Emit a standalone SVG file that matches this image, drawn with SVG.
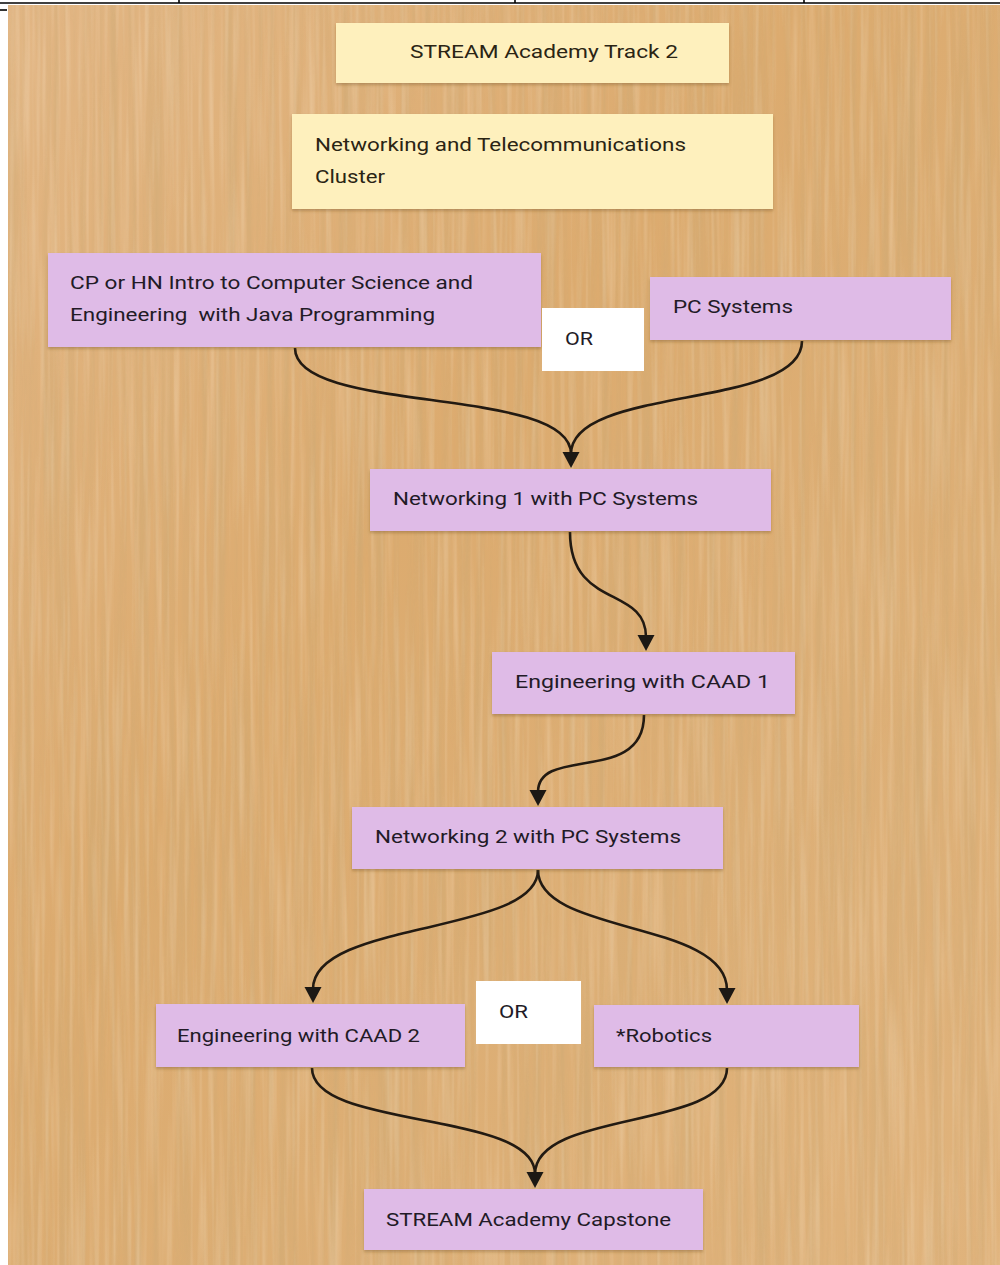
<svg xmlns="http://www.w3.org/2000/svg" width="1000" height="1265" viewBox="0 0 1000 1265">
  <defs>
    <filter id="grain" x="0" y="0" width="100%" height="100%">
      <feTurbulence type="fractalNoise" baseFrequency="0.12 0.003" numOctaves="3" seed="7" result="n"/>
      <feColorMatrix in="n" type="matrix" values="0 0 0 0 0.60  0 0 0 0 0.40  0 0 0 0 0.18  0 0 0 1.6 -0.62"/>
    </filter>
    <filter id="grainLight" x="0" y="0" width="100%" height="100%">
      <feTurbulence type="fractalNoise" baseFrequency="0.2 0.006" numOctaves="2" seed="21" result="n"/>
      <feColorMatrix in="n" type="matrix" values="0 0 0 0 1  0 0 0 0 0.9  0 0 0 0 0.75  0 0 0 1.4 -0.6"/>
    </filter>
    <filter id="shadow" x="-5%" y="-10%" width="110%" height="130%">
      <feDropShadow dx="0" dy="2" stdDeviation="1.5" flood-color="#6b4a22" flood-opacity="0.35"/>
    </filter>
    <linearGradient id="woodTone" x1="0" y1="0" x2="1" y2="1">
      <stop offset="0" stop-color="#e2b684"/>
      <stop offset="0.4" stop-color="#dcab6f"/>
      <stop offset="0.7" stop-color="#ddaf76"/>
      <stop offset="1" stop-color="#e0b37c"/>
    </linearGradient>
    <path id="ah" d="M-8.5,-16 L8.5,-16 L0,0 Z" fill="#1c1814"/>
  </defs>
  <style>
    .bg { fill: url(#woodTone); }
    .yellow { fill: #fef0bd; filter: url(#shadow); }
    .purple { fill: #dfbbe7; filter: url(#shadow); }
    .orbox { fill: #ffffff; }
    .t { font-family: Roboto, "Liberation Sans", sans-serif; font-size: 18.5px; fill: #221a26; white-space: pre; }
    .ty { fill: #2a2414; }
    .edge { fill: none; stroke: #221a12; stroke-width: 2.6; }
    .rule { stroke: #000; stroke-width: 1.6; }
  </style>

  <rect width="1000" height="1265" fill="#ffffff"/>
  <g id="table-rule">
    <line class="rule" x1="0" y1="3" x2="1000" y2="3"/>
    <line class="rule" x1="179" y1="0" x2="179" y2="3"/>
    <line class="rule" x1="515" y1="0" x2="515" y2="3"/>
    <line class="rule" x1="804" y1="0" x2="804" y2="3"/>
    <line class="rule" x1="0" y1="10" x2="7" y2="10"/>
  </g>
  <g id="background">
    <rect class="bg" x="8" y="5" width="992" height="1260"/>
    <rect x="8" y="5" width="992" height="1260" filter="url(#grain)" opacity="0.6"/>
    <rect x="8" y="5" width="992" height="1260" filter="url(#grainLight)" opacity="0.35"/>
  </g>

  <g id="connectors">
    <path class="edge" d="M295,348 C295,415 571,385 571,454"/>
    <path class="edge" d="M802,341 C802,410 571,385 571,454"/>
    <path class="edge" d="M570,532 C570,610 646,585 646,637"/>
    <path class="edge" d="M644,715 C644,785 538,745 538,792"/>
    <path class="edge" d="M538,870 C538,935 313,920 313,989"/>
    <path class="edge" d="M538,870 C538,935 727,920 727,990"/>
    <path class="edge" d="M312,1068 C312,1130 535,1110 535,1174"/>
    <path class="edge" d="M727,1068 C727,1130 535,1110 535,1174"/>
    <use href="#ah" x="571" y="468"/>
    <use href="#ah" x="646" y="651"/>
    <use href="#ah" x="538" y="806"/>
    <use href="#ah" x="313" y="1003"/>
    <use href="#ah" x="727" y="1004"/>
    <use href="#ah" x="535" y="1188"/>
  </g>

  <g id="node-title">
    <rect class="yellow" x="336" y="23" width="393" height="60"/>
    <text class="t ty" x="410" y="58" textLength="268" lengthAdjust="spacingAndGlyphs">STREAM Academy Track 2</text>
  </g>
  <g id="node-cluster">
    <rect class="yellow" x="292" y="114" width="481" height="95"/>
    <text class="t ty" x="315" y="151" textLength="371" lengthAdjust="spacingAndGlyphs">Networking and Telecommunications</text>
    <text class="t ty" x="315" y="183" textLength="70" lengthAdjust="spacingAndGlyphs">Cluster</text>
  </g>
  <g id="node-intro-cs">
    <rect class="purple" x="48" y="253" width="493" height="94"/>
    <text class="t" x="70" y="289" textLength="403" lengthAdjust="spacingAndGlyphs">CP or HN Intro to Computer Science and</text>
    <text class="t" x="70" y="321" textLength="365" lengthAdjust="spacingAndGlyphs">Engineering  with Java Programming</text>
  </g>
  <g id="node-or-1">
    <rect class="orbox" x="542" y="308" width="102" height="63"/>
    <text class="t" x="565" y="345" textLength="28" lengthAdjust="spacingAndGlyphs">OR</text>
  </g>
  <g id="node-pc-systems">
    <rect class="purple" x="650" y="277" width="301" height="63"/>
    <text class="t" x="673" y="313" textLength="120" lengthAdjust="spacingAndGlyphs">PC Systems</text>
  </g>
  <g id="node-networking-1">
    <rect class="purple" x="370" y="469" width="401" height="62"/>
    <text class="t" x="393" y="505" textLength="305" lengthAdjust="spacingAndGlyphs">Networking 1 with PC Systems</text>
  </g>
  <g id="node-caad-1">
    <rect class="purple" x="492" y="652" width="303" height="62"/>
    <text class="t" x="515" y="688" textLength="255" lengthAdjust="spacingAndGlyphs">Engineering with CAAD 1</text>
  </g>
  <g id="node-networking-2">
    <rect class="purple" x="352" y="807" width="371" height="62"/>
    <text class="t" x="375" y="843" textLength="306" lengthAdjust="spacingAndGlyphs">Networking 2 with PC Systems</text>
  </g>
  <g id="node-caad-2">
    <rect class="purple" x="156" y="1004" width="309" height="63"/>
    <text class="t" x="177" y="1042" textLength="243" lengthAdjust="spacingAndGlyphs">Engineering with CAAD 2</text>
  </g>
  <g id="node-or-2">
    <rect class="orbox" x="476" y="981" width="105" height="63"/>
    <text class="t" x="499" y="1018" textLength="29" lengthAdjust="spacingAndGlyphs">OR</text>
  </g>
  <g id="node-robotics">
    <rect class="purple" x="594" y="1005" width="265" height="62"/>
    <text class="t" x="616" y="1042" textLength="96" lengthAdjust="spacingAndGlyphs">*Robotics</text>
  </g>
  <g id="node-capstone">
    <rect class="purple" x="364" y="1189" width="339" height="61"/>
    <text class="t" x="386" y="1226" textLength="285" lengthAdjust="spacingAndGlyphs">STREAM Academy Capstone</text>
  </g>
</svg>
